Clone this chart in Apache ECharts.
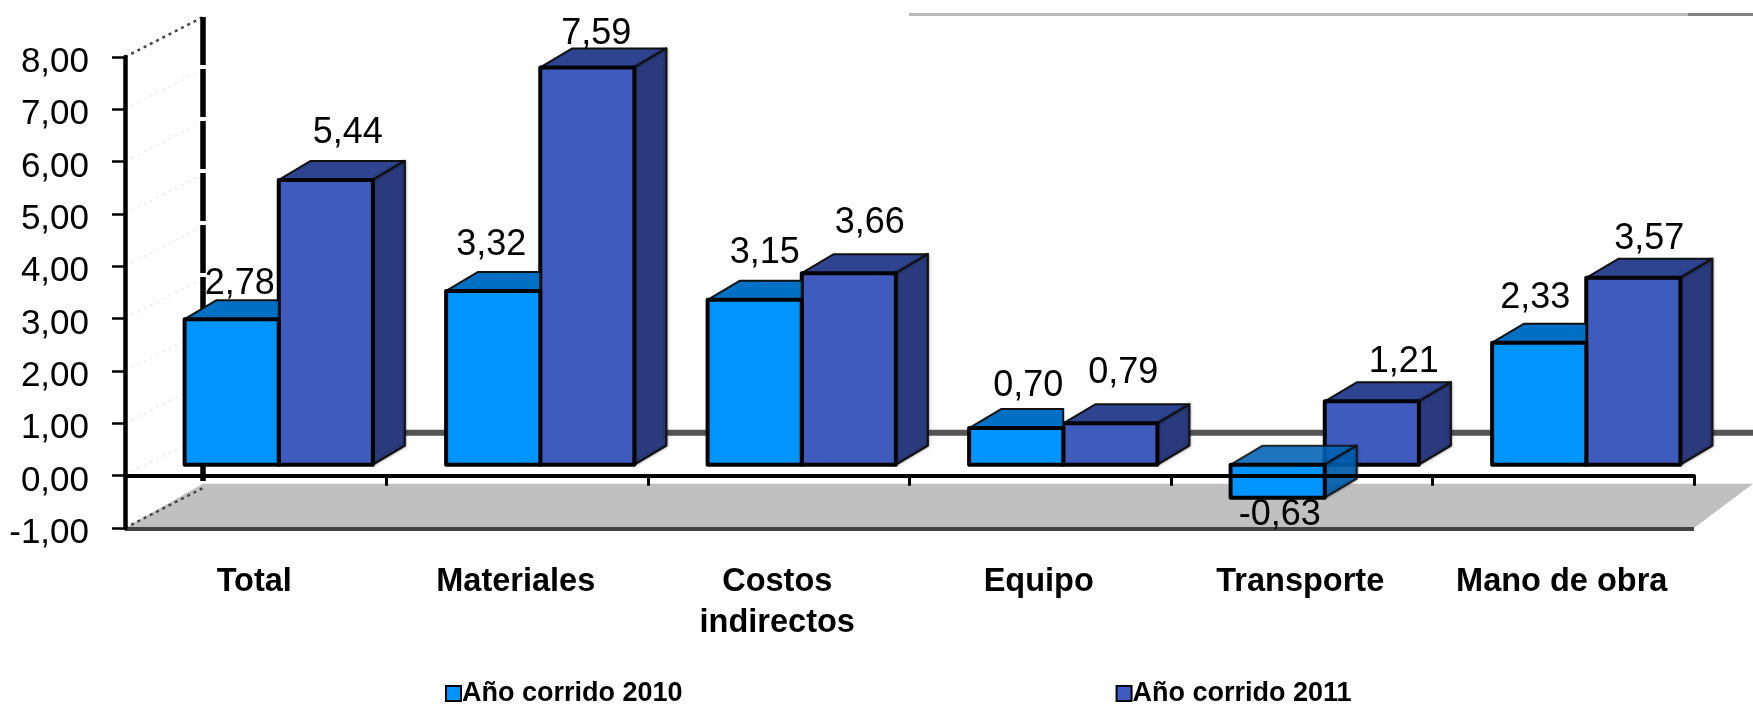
<!DOCTYPE html>
<html><head><meta charset="utf-8">
<style>html,body{margin:0;padding:0;background:#fff}#c{width:1753px;height:704px}</style>
<script src="https://cdn.jsdelivr.net/npm/echarts@6/dist/echarts.min.js"></script>
</head><body><div id="c"></div>
<script>
const categories = ['Total','Materiales','Costos\nindirectos','Equipo','Transporte','Mano de obra'];
const seriesNames = ['Año corrido 2010','Año corrido 2011'];
const values2010 = [2.78,3.32,3.15,0.70,-0.63,2.33];
const values2011 = [5.44,7.59,3.66,0.79,1.21,3.57];

// Layout of the pseudo-3D drawing
const FONT = '"Liberation Sans", Arial, sans-serif';
const DEPTH_X = 32, DEPTH_Y = 19, BASE_LIFT = 11, BAR_SHIFT = 23, BAR_FRAC = 0.36;
const WALL_X = 78, WALL_Y = 40;
const nudge2010 = [[8,-35],[-2,-46],[10,-47],[12,-42],[2,17],[-4,-45]];
const nudge2011 = [[22,-47],[9,-33],[21,-50],[13,-50],[32,-39],[16,-39]];
const PAL = {
  a:{front:'#0094FF',top:'#0070C4',side:'#0070C4'},
  b:{front:'#405BBE',top:'#2E4490',side:'#2A3A7C'}
};
const fmt = v => v.toFixed(2).replace('.',',');

function barItem(pal, nudges, isLeft){
  return function(params, api){
    const i = api.value(0), v = api.value(1);
    const p0 = api.coord([i,0]), pv = api.coord([i,v]);
    const w = api.size([1,0])[0]*BAR_FRAC;
    const cx = p0[0]+BAR_SHIFT;
    const x0 = isLeft ? cx-w : cx, x1 = isLeft ? cx : cx+w;
    const yb = p0[1]-BASE_LIFT, yt = pv[1]-BASE_LIFT;
    const top = Math.min(yb,yt), bot = Math.max(yb,yt);
    const neg = v<0;
    const kids = [];
    const edge = {stroke:'#000',lineWidth:4,lineJoin:'round'};
    const soft = {stroke:'#111',lineWidth:2,lineJoin:'round'};
    if(isLeft && !neg){
      kids.push({type:'polygon',shape:{points:[[x0,top],[x0+DEPTH_X,top-DEPTH_Y],[x1,top-DEPTH_Y],[x1,top]]},
        style:Object.assign({fill:pal.top},soft)});
    } else {
      kids.push({type:'polygon',shape:{points:[[x0,top],[x0+DEPTH_X,top-DEPTH_Y],[x1+DEPTH_X,top-DEPTH_Y],[x1,top]]},
        style:Object.assign({fill:neg?'#0062B4':pal.top,opacity:neg?0.88:1},soft)});
      kids.push({type:'polygon',shape:{points:[[x1,top],[x1+DEPTH_X,top-DEPTH_Y],[x1+DEPTH_X,bot-DEPTH_Y],[x1,bot]]},
        style:Object.assign({fill:neg?'#0062B4':pal.side,opacity:neg?0.88:1,shadowBlur:3,shadowColor:'rgba(0,0,0,.45)'},soft)});
    }
    kids.push({type:'rect',shape:{x:x0,y:top,width:x1-x0,height:bot-top},style:Object.assign({fill:pal.front},edge)});
    const n = nudges[i];
    const anchorY = neg ? bot : top;
    kids.push({type:'text',z2:50,style:{x:(x0+x1)/2+n[0],y:anchorY+n[1],text:fmt(v),
      font:'36px '+FONT,fill:'#000',align:'center',verticalAlign:'middle'}});
    return {type:'group',children:kids};
  };
}

function sceneItem(params, api){
  const top = api.coord([0,8]), bot = api.coord([0,-1]), zero = api.coord([0,0]);
  const last = api.coord([categories.length-1,0]);
  const band = api.size([1,0])[0];
  const L = top[0]-band/2, R = last[0]+band/2;
  const kids = [];
  const floorTop = zero[1]+8;
  kids.push({type:'polygon',shape:{points:[[L+WALL_X,floorTop],[1753,floorTop],[R,bot[1]],[L,bot[1]]]},style:{fill:'#C0C0C0'}});
  for(let v=-1;v<=8;v++){
    const y = api.coord([0,v])[1];
    const strong = (v===8||v===-1);
    kids.push({type:'line',shape:{x1:L,y1:y,x2:L+WALL_X,y2:y-WALL_Y},
      style:{stroke:strong?'#444':'#ececec',lineWidth:strong?2.5:1.5,lineDash:[3,4]}});
  }
  kids.push({type:'line',shape:{x1:L+WALL_X,y1:top[1]-WALL_Y,x2:L+WALL_X,y2:floorTop},
    style:{stroke:'#000',lineWidth:5.5,lineDash:[48,4]}});
  kids.push({type:'line',shape:{x1:L+WALL_X,y1:zero[1]-WALL_Y-3,x2:1753,y2:zero[1]-WALL_Y-3},style:{stroke:'#555',lineWidth:6}});
  kids.push({type:'line',shape:{x1:L,y1:bot[1]+1,x2:R,y2:bot[1]+1},style:{stroke:'#444',lineWidth:4}});
  kids.push({type:'line',shape:{x1:909,y1:14.5,x2:1688,y2:14.5},style:{stroke:'#BBBBBB',lineWidth:3}});
  kids.push({type:'line',shape:{x1:1688,y1:14.5,x2:1753,y2:14.5},style:{stroke:'#808080',lineWidth:3}});
  return {type:'group',children:kids};
}

const chart = echarts.init(document.getElementById('c'),null,{renderer:'canvas'});
chart.setOption({
  animation:false,
  backgroundColor:'#fff',
  textStyle:{fontFamily:FONT},
  grid:{left:125,right:59,top:57,bottom:176,containLabel:false},
  xAxis:{type:'category',data:categories,z:10,
    axisLine:{onZero:true,lineStyle:{color:'#000',width:4}},
    axisTick:{show:true,alignWithLabel:false,length:10,lineStyle:{color:'#000',width:3}},
    splitLine:{show:false},
    axisLabel:{interval:0,margin:34,fontSize:32.5,fontWeight:'bold',color:'#000',lineHeight:41,fontFamily:FONT,padding:[0,3,0,0]}},
  yAxis:{type:'value',min:-1,max:8,interval:1,z:10,
    axisLine:{show:true,lineStyle:{color:'#000',width:4.5}},
    axisTick:{show:true,length:13,lineStyle:{color:'#000',width:2.5}},
    splitLine:{show:false},
    axisLabel:{margin:36,fontSize:35,color:'#000',fontFamily:FONT,verticalAlign:'top',padding:[-12,0,0,0],formatter:v=>fmt(v)}},
  legend:{data:seriesNames,left:440,top:675,itemWidth:15,itemHeight:15,itemGap:433,icon:'rect',
    itemStyle:{borderColor:'#000',borderWidth:2},
    textStyle:{fontSize:27,fontWeight:'bold',color:'#000',fontFamily:FONT,padding:[0,0,0,-4]}},
  series:[
    {type:'custom',name:'scene',silent:true,z:1,clip:false,renderItem:sceneItem,data:[[0,0]],encode:{x:0,y:1}},
    {type:'custom',name:seriesNames[1],z:3,clip:false,itemStyle:{color:PAL.b.front},
      renderItem:barItem(PAL.b,nudge2011,false),
      data:values2011.map((v,i)=>[i,v]),encode:{x:0,y:1}},
    {type:'custom',name:seriesNames[0],z:4,clip:false,itemStyle:{color:PAL.a.front},
      renderItem:barItem(PAL.a,nudge2010,true),
      data:values2010.map((v,i)=>[i,v]),encode:{x:0,y:1}}
  ]
});
</script></body></html>
